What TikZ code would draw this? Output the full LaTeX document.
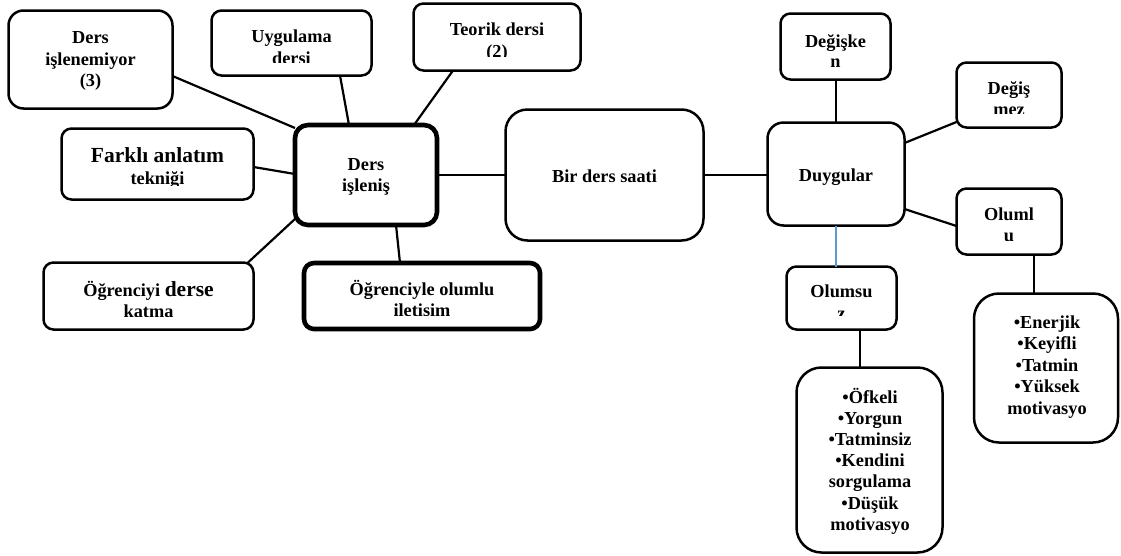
\documentclass[tikz,border=0pt]{standalone}
\usepackage{fontspec}
\setmainfont{Liberation Serif}
\definecolor{linkblue}{HTML}{5B9BD5}
\tikzset{
  box/.style={draw=black, line width=2.5pt, fill=white, rounded corners=10pt, inner sep=0pt, outer sep=0pt},
  thickbox/.style={box, line width=4.6pt},
  txt/.style={font=\bfseries\fontsize{18.3}{21.5}\selectfont, align=center, inner sep=0pt, anchor=base},
  link/.style={line width=2.2pt, draw=black},
  bluelink/.style={line width=2.2pt, draw=linkblue},
}
\begin{document}
\begin{tikzpicture}[x=1pt, y=-1pt]
\useasboundingbox (0,0) rectangle (1121,555);
% boxes
\node[box, rounded corners=15pt, minimum width=164pt, minimum height=98pt] (den) at (90.5,59.5) {};
\node[box, minimum width=160pt, minimum height=65pt] (uyg) at (291.5,43) {};
\node[box, minimum width=167pt, minimum height=67pt] (teo) at (497,37) {};
\node[box, minimum width=192pt, minimum height=71pt] (far) at (157.5,164) {};
\node[thickbox, rounded corners=13pt, minimum width=142pt, minimum height=100pt] (dis) at (366,175) {};
\node[box, minimum width=210pt, minimum height=67pt] (ogd) at (148.5,296) {};
\node[thickbox, minimum width=236pt, minimum height=66pt] (ogo) at (422,296) {};
\node[box, rounded corners=22pt, minimum width=198pt, minimum height=131pt] (bds) at (604.5,175) {};
\node[box, rounded corners=16pt, minimum width=137pt, minimum height=103pt] (duy) at (836,174) {};
\node[box, minimum width=110pt, minimum height=66pt] (dgk) at (835.5,46.5) {};
\node[box, minimum width=105pt, minimum height=65pt] (dgm) at (1009,95) {};
\node[box, minimum width=105pt, minimum height=66pt] (olu) at (1009,221.5) {};
\node[box, minimum width=110pt, minimum height=63pt] (olm) at (841.5,298) {};
\node[box, rounded corners=25pt, minimum width=146pt, minimum height=185pt] (neg) at (869.5,460) {};
\node[box, rounded corners=25pt, minimum width=144pt, minimum height=149pt] (pos) at (1046,368) {};
% connectors
\draw[link] ([yshift=-16.5pt]den.east) -- ([yshift=47pt]dis.west);
\draw[link] ([xshift=48.5pt]uyg.south) -- ([xshift=-17pt]dis.north);
\draw[link] ([xshift=-44pt]teo.south) -- ([xshift=48pt]dis.north);
\draw[link] ([yshift=-3pt]far.east) -- ([yshift=1pt]dis.west);
\draw[link] ([xshift=99.5pt]ogd.north) -- ([yshift=-44pt]dis.west);
\draw[link] ([xshift=-22pt]ogo.north) -- ([xshift=30pt]dis.south);
\draw[link] (dis.east) -- (bds.west);
\draw[link] (bds.east) -- (bds.east -| duy.west);
\draw[link] (duy.north) -- (duy.north |- dgk.south);
\draw[link] ([yshift=31pt]duy.east) -- ([yshift=-27pt]dgm.west);
\draw[link] ([yshift=-35pt]duy.east) -- ([yshift=-4.5pt]olu.west);
\draw[bluelink] (duy.south) -- (duy.south |- olm.north);
\draw[link] ([xshift=18.5pt]olm.south) -- ([xshift=18.5pt]olm.south |- neg.north);
\draw[link] ([xshift=25pt]olu.south) -- ([xshift=25pt]olu.south |- pos.north);
% texts (anchor base = baseline of the last line)
\node[txt] (den-t) at (90.5,86.5) {Ders\\işlenemiyor\\(3)};
\begin{scope}
\clip (211,10) rectangle (372,62.3);
\node[txt] (uyg-t) at (291.5,64.3) {Uygulama\\dersi};
\end{scope}
\begin{scope}
\clip (413,3) rectangle (581,56.7);
\node[txt] (teo-t) at (497,57.2) {Teorik dersi\\(2)};
\end{scope}
\begin{scope}
\clip (61,128) rectangle (254,185.5);
\node[txt, font=\bfseries\fontsize{21.5}{21.7}\selectfont] (far-t) at (157.5,184) {Farklı anlatım\\{\fontsize{18.3}{21.7}\selectfont tekniği}};
\end{scope}
\node[txt] (dis-t) at (366,191.5) {Ders\\işleniş};
\begin{scope}
\clip (43,262) rectangle (254,316);
\node[txt] (ogd-t) at (148.5,317.5) {Öğrenciyi {\fontsize{21.5}{21.5}\selectfont derse}\\katma};
\end{scope}
\begin{scope}
\clip (302,261) rectangle (542,315.3);
\node[txt] (ogo-t) at (422,316.8) {Öğrenciyle olumlu\\iletişim};
\end{scope}
\node[txt] (bds-t) at (604.5,182.3) {Bir ders saati};
\node[txt] (duy-t) at (836,181.7) {Duygular};
\begin{scope}
\clip (780,13) rectangle (891,66.5);
\node[txt, font=\bfseries\fontsize{18.3}{20.5}\selectfont] (dgk-t) at (835.5,67.5) {Değişke\\n};
\end{scope}
\begin{scope}
\clip (956,62) rectangle (1062,113.3);
\node[txt] (dgm-t) at (1009,115.8) {Değiş\\mez};
\end{scope}
\begin{scope}
\clip (956,188) rectangle (1062,240);
\node[txt] (olu-t) at (1009,241.5) {Oluml\\u};
\end{scope}
\begin{scope}
\clip (786,266) rectangle (897,315);
\node[txt] (olm-t) at (841.5,319.2) {Olumsu\\z};
\end{scope}
\node[txt, font=\bfseries\fontsize{18.3}{21.2}\selectfont] (neg-t) at (870,530.2) {•Öfkeli\\•Yorgun\\•Tatminsiz\\•Kendini\\sorgulama\\•Düşük\\motivasyo};
\node[txt] (pos-t) at (1047,414) {•Enerjik\\•Keyifli\\•Tatmin\\•Yüksek\\motivasyo};
\end{tikzpicture}
\end{document}
